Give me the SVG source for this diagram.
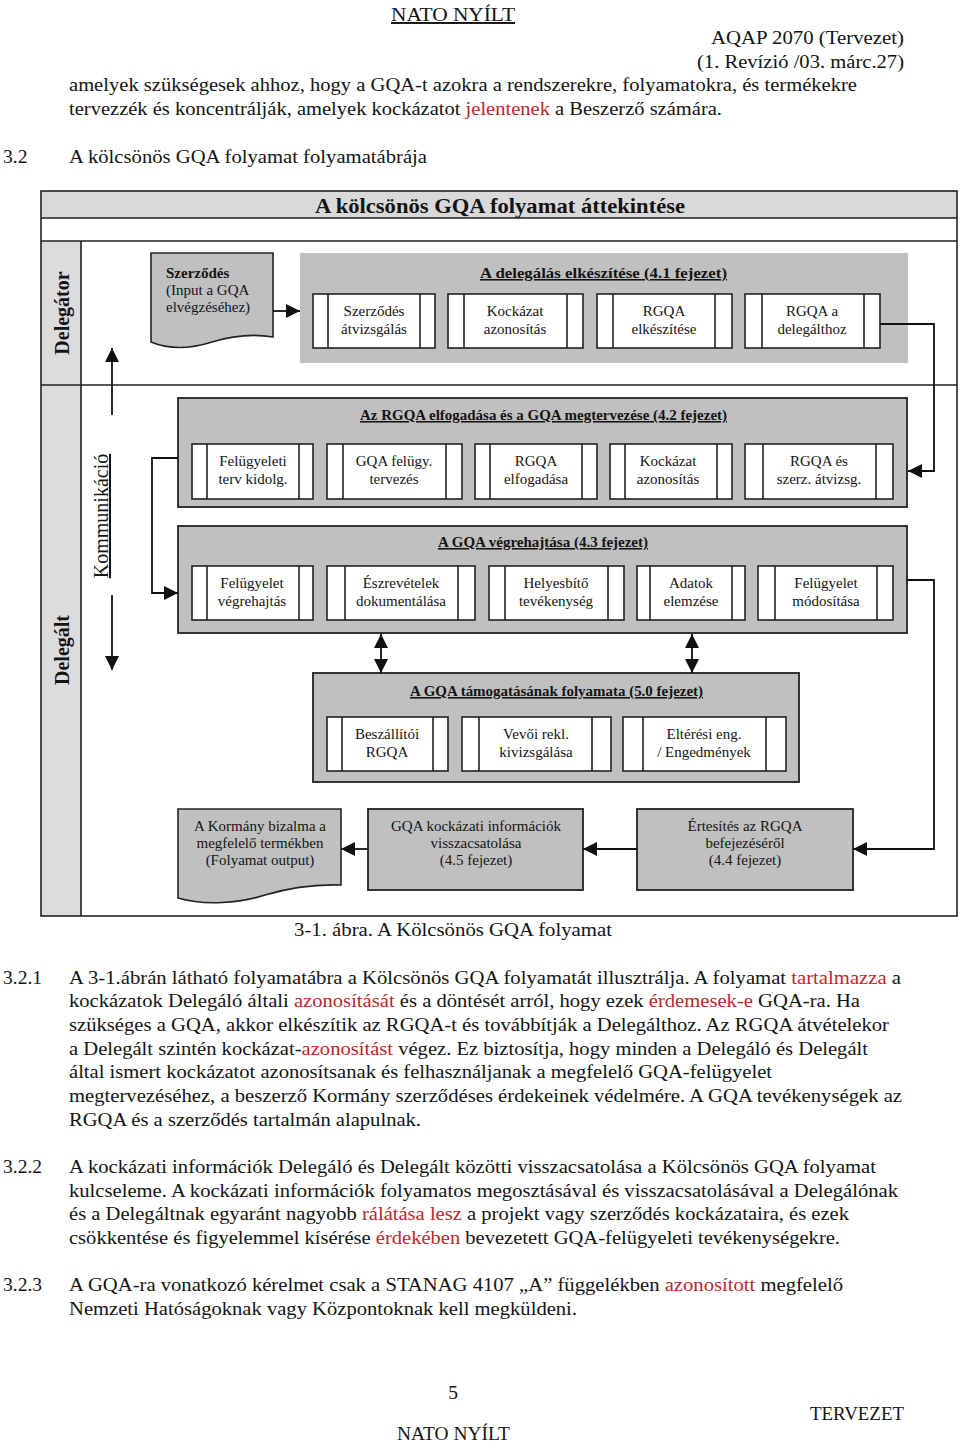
<svg xmlns="http://www.w3.org/2000/svg" width="960" height="1442" viewBox="0 0 960 1442">
<defs>
<style>
text { font-family: "Liberation Serif", "Times New Roman", serif; fill: #141414; }
.pg { font-size: 19.5px; }
.r { fill: #c0262d; }
.ttl { font-size: 21px; font-weight: bold; text-anchor: middle; }
.lane { font-size: 20px; font-weight: bold; text-anchor: middle; }
.kom { font-size: 20px; text-anchor: middle; text-decoration: underline; }
.gt { font-size: 15.5px; font-weight: bold; text-anchor: middle; text-decoration: underline; }
.t { font-size: 15px; text-anchor: middle; }
.tl { font-size: 15px; }
.frame { fill: none; stroke: #222; stroke-width: 1.6; }
.bx { fill: #fff; stroke: #222; stroke-width: 1.6; }
.in { fill: none; stroke: #222; stroke-width: 1.6; }
.grp { fill: #c0c0c0; stroke: #222; stroke-width: 1.8; }
.grp0 { fill: #c0c0c0; stroke: none; }
.conn { fill: none; stroke: #111; stroke-width: 1.8; }
</style>
<marker id="ah" viewBox="0 0 14 14" refX="14" refY="7" markerWidth="14" markerHeight="14" markerUnits="userSpaceOnUse" orient="auto-start-reverse">
<path d="M0,0 L14,7 L0,14 Z" fill="#111"/>
</marker>
</defs>
<rect width="960" height="1442" fill="#fff"/>

<!-- page header -->
<g id="page-header">
<text class="pg" x="391" y="21" textLength="124" lengthAdjust="spacingAndGlyphs" style="text-decoration:underline">NATO NYÍLT</text>
<text class="pg" x="711" y="44" textLength="193" lengthAdjust="spacingAndGlyphs">AQAP 2070 (Tervezet)</text>
<text class="pg" x="697" y="68" textLength="207" lengthAdjust="spacingAndGlyphs">(1. Revízió /03. márc.27)</text>
<text class="pg" x="69" y="91" textLength="788" lengthAdjust="spacingAndGlyphs">amelyek szükségesek ahhoz, hogy a GQA-t azokra a rendszerekre, folyamatokra, és termékekre</text>
<text class="pg" x="69" y="115" textLength="653" lengthAdjust="spacingAndGlyphs"><tspan>tervezzék és koncentrálják, amelyek kockázatot </tspan><tspan class="r">jelentenek</tspan><tspan> a Beszerző számára.</tspan></text>
<text class="pg" x="3" y="163">3.2</text>
<text class="pg" x="69" y="163" textLength="358" lengthAdjust="spacingAndGlyphs">A kölcsönös GQA folyamat folyamatábrája</text>
</g>

<!-- frame -->
<g id="frame">
<rect x="41" y="191" width="916" height="725" fill="#fff"/>
<rect x="41" y="191" width="916" height="27" fill="#d9d9d9"/>
<rect x="41" y="241" width="40" height="675" fill="#dcdcdc"/>
<rect class="frame" x="41" y="191" width="916" height="725"/>
<path class="frame" d="M41,218 H957 M41,241 H957 M41,385 H957 M81,241 V916"/>
<text class="ttl" x="500" y="213" textLength="370" lengthAdjust="spacingAndGlyphs">A kölcsönös GQA folyamat áttekintése</text>
<text class="lane" transform="translate(69,313) rotate(-90)">Delegátor</text>
<text class="lane" transform="translate(69,650) rotate(-90)">Delegált</text>
<text class="kom" transform="translate(108,516) rotate(-90)">Kommunikáció</text>
</g>

<!-- Delegator lane -->
<g id="szerzodes-doc">
<path d="M151,253 H273 V337 C255,334 235,335 212,342 C190,349 170,350 151,342 Z" fill="#c0c0c0" stroke="#222" stroke-width="1.6"/>
<text class="tl" x="166" y="278" font-weight="bold">Szerződés</text>
<text class="tl" x="166" y="295">(Input a GQA</text>
<text class="tl" x="166" y="312">elvégzéséhez)</text>
</g>

<g id="grp-delegalas">
<rect class="grp0" x="300" y="253" width="608" height="110"/>
<text class="gt" x="603.5" y="278" textLength="247" lengthAdjust="spacingAndGlyphs">A delegálás elkészítése (4.1 fejezet)</text>
</g>
<g id="n1a"><rect class="bx" x="313" y="294" width="122" height="54"/><path class="in" d="M328,294 V348 M420,294 V348"/><text class="t" x="374" y="316">Szerződés</text><text class="t" x="374" y="334">átvizsgálás</text></g>
<g id="n1b"><rect class="bx" x="448" y="294" width="135" height="54"/><path class="in" d="M464,294 V348 M567,294 V348"/><text class="t" x="515" y="316">Kockázat</text><text class="t" x="515" y="334">azonosítás</text></g>
<g id="n1c"><rect class="bx" x="597" y="294" width="135" height="54"/><path class="in" d="M613,294 V348 M715,294 V348"/><text class="t" x="664" y="316">RGQA</text><text class="t" x="664" y="334">elkészítése</text></g>
<g id="n1d"><rect class="bx" x="745" y="294" width="135" height="54"/><path class="in" d="M762,294 V348 M864,294 V348"/><text class="t" x="812" y="316">RGQA a</text><text class="t" x="812" y="334">delegálthoz</text></g>

<!-- Group 2 -->
<g id="grp-elfogadas">
<rect class="grp" x="178" y="398" width="729" height="109"/>
<text class="gt" x="543.5" y="420" textLength="367" lengthAdjust="spacingAndGlyphs">Az RGQA elfogadása és a GQA megtervezése (4.2 fejezet)</text>
</g>
<g id="n2a"><rect class="bx" x="192" y="444" width="121" height="55"/><path class="in" d="M207,444 V499 M299,444 V499"/><text class="t" x="253" y="466">Felügyeleti</text><text class="t" x="253" y="484">terv kidolg.</text></g>
<g id="n2b"><rect class="bx" x="327" y="444" width="135" height="55"/><path class="in" d="M343,444 V499 M446,444 V499"/><text class="t" x="394" y="466">GQA felügy.</text><text class="t" x="394" y="484">tervezés</text></g>
<g id="n2c"><rect class="bx" x="475" y="444" width="122" height="55"/><path class="in" d="M490,444 V499 M582,444 V499"/><text class="t" x="536" y="466">RGQA</text><text class="t" x="536" y="484">elfogadása</text></g>
<g id="n2d"><rect class="bx" x="610" y="444" width="122" height="55"/><path class="in" d="M625,444 V499 M717,444 V499"/><text class="t" x="668" y="466">Kockázat</text><text class="t" x="668" y="484">azonosítás</text></g>
<g id="n2e"><rect class="bx" x="745" y="444" width="148" height="55"/><path class="in" d="M763,444 V499 M876,444 V499"/><text class="t" x="819" y="466">RGQA és</text><text class="t" x="819" y="484">szerz. átvizsg.</text></g>

<!-- Group 3 -->
<g id="grp-vegrehajtas">
<rect class="grp" x="178" y="526" width="729" height="107"/>
<text class="gt" x="543" y="547" textLength="210" lengthAdjust="spacingAndGlyphs">A GQA végrehajtása (4.3 fejezet)</text>
</g>
<g id="n3a"><rect class="bx" x="192" y="566" width="121" height="54"/><path class="in" d="M207,566 V620 M299,566 V620"/><text class="t" x="252" y="588">Felügyelet</text><text class="t" x="252" y="606">végrehajtás</text></g>
<g id="n3b"><rect class="bx" x="327" y="566" width="148" height="54"/><path class="in" d="M345,566 V620 M458,566 V620"/><text class="t" x="401" y="588">Észrevételek</text><text class="t" x="401" y="606">dokumentálása</text></g>
<g id="n3c"><rect class="bx" x="489" y="566" width="135" height="54"/><path class="in" d="M505,566 V620 M608,566 V620"/><text class="t" x="556" y="588">Helyesbítő</text><text class="t" x="556" y="606">tevékenység</text></g>
<g id="n3d"><rect class="bx" x="637" y="566" width="108" height="54"/><path class="in" d="M650,566 V620 M732,566 V620"/><text class="t" x="691" y="588">Adatok</text><text class="t" x="691" y="606">elemzése</text></g>
<g id="n3e"><rect class="bx" x="758" y="566" width="135" height="54"/><path class="in" d="M775,566 V620 M877,566 V620"/><text class="t" x="826" y="588">Felügyelet</text><text class="t" x="826" y="606">módosítása</text></g>

<!-- Group 4 -->
<g id="grp-tamogatas">
<rect class="grp" x="313" y="673" width="486" height="109"/>
<text class="gt" x="556.5" y="696" textLength="293" lengthAdjust="spacingAndGlyphs">A GQA támogatásának folyamata (5.0 fejezet)</text>
</g>
<g id="n4a"><rect class="bx" x="327" y="717" width="121" height="54"/><path class="in" d="M342,717 V771 M433,717 V771"/><text class="t" x="387" y="739">Beszállítói</text><text class="t" x="387" y="757">RGQA</text></g>
<g id="n4b"><rect class="bx" x="462" y="717" width="149" height="54"/><path class="in" d="M479,717 V771 M592,717 V771"/><text class="t" x="536" y="739">Vevői rekl.</text><text class="t" x="536" y="757">kivizsgálása</text></g>
<g id="n4c"><rect class="bx" x="623" y="717" width="163" height="54"/><path class="in" d="M643,717 V771 M766,717 V771"/><text class="t" x="704" y="739">Eltérési eng.</text><text class="t" x="704" y="757">/ Engedmények</text></g>

<!-- bottom row -->
<g id="kormany-doc">
<path d="M178,809 H341 V885 C315,884 292,887 265,895 C240,903 205,906 178,898 Z" fill="#c0c0c0" stroke="#222" stroke-width="1.6"/>
<text class="t" x="260" y="831">A Kormány bizalma a</text>
<text class="t" x="260" y="848">megfelelő termékben</text>
<text class="t" x="260" y="865">(Folyamat output)</text>
</g>
<g id="visszacsatolas">
<rect class="grp" x="368" y="809" width="215" height="81"/>
<text class="t" x="476" y="831">GQA kockázati információk</text>
<text class="t" x="476" y="848">visszacsatolása</text>
<text class="t" x="476" y="865">(4.5 fejezet)</text>
</g>
<g id="ertesites">
<rect class="grp" x="637" y="809" width="216" height="81"/>
<text class="t" x="745" y="831">Értesítés az RGQA</text>
<text class="t" x="745" y="848">befejezéséről</text>
<text class="t" x="745" y="865">(4.4 fejezet)</text>
</g>

<!-- connectors -->
<g id="connectors">
<path class="conn" d="M273,311 H300" marker-end="url(#ah)"/>
<path class="conn" d="M880,324 H934 V471 H908" marker-end="url(#ah)"/>
<path class="conn" d="M178,458 H152 V593 H178" marker-end="url(#ah)"/>
<path class="conn" d="M907,580 H934 V849 H853" marker-end="url(#ah)"/>
<path class="conn" d="M637,849 H583" marker-end="url(#ah)"/>
<path class="conn" d="M368,849 H341" marker-end="url(#ah)"/>
<path class="conn" d="M381,634 V673" marker-start="url(#ah)" marker-end="url(#ah)"/>
<path class="conn" d="M692,634 V673" marker-start="url(#ah)" marker-end="url(#ah)"/>
<path class="conn" d="M112,415 V348" marker-end="url(#ah)"/>
<path class="conn" d="M112,595 V670" marker-end="url(#ah)"/>
</g>

<!-- caption and body -->
<g id="body">
<text class="pg" x="294" y="936" textLength="318" lengthAdjust="spacingAndGlyphs">3-1. ábra. A Kölcsönös GQA folyamat</text>

<text class="pg" x="3" y="984">3.2.1</text>
<text class="pg" x="69" y="984" textLength="832" lengthAdjust="spacingAndGlyphs"><tspan>A 3-1.ábrán látható folyamatábra a Kölcsönös GQA folyamatát illusztrálja. A folyamat </tspan><tspan class="r">tartalmazza</tspan><tspan> a</tspan></text>
<text class="pg" x="69" y="1007" textLength="791" lengthAdjust="spacingAndGlyphs"><tspan>kockázatok Delegáló általi </tspan><tspan class="r">azonosítását</tspan><tspan> és a döntését arról, hogy ezek </tspan><tspan class="r">érdemesek-e</tspan><tspan> GQA-ra. Ha</tspan></text>
<text class="pg" x="69" y="1031" textLength="820" lengthAdjust="spacingAndGlyphs">szükséges a GQA, akkor elkészítik az RGQA-t és továbbítják a Delegálthoz. Az RGQA átvételekor</text>
<text class="pg" x="69" y="1055" textLength="799" lengthAdjust="spacingAndGlyphs"><tspan>a Delegált szintén kockázat-</tspan><tspan class="r">azonosítást</tspan><tspan> végez. Ez biztosítja, hogy minden a Delegáló és Delegált</tspan></text>
<text class="pg" x="69" y="1078" textLength="703" lengthAdjust="spacingAndGlyphs">által ismert kockázatot azonosítsanak és felhasználjanak a megfelelő GQA-felügyelet</text>
<text class="pg" x="69" y="1102" textLength="833" lengthAdjust="spacingAndGlyphs">megtervezéséhez, a beszerző Kormány szerződéses érdekeinek védelmére. A GQA tevékenységek az</text>
<text class="pg" x="69" y="1126" textLength="352" lengthAdjust="spacingAndGlyphs">RGQA és a szerződés tartalmán alapulnak.</text>

<text class="pg" x="3" y="1173">3.2.2</text>
<text class="pg" x="69" y="1173" textLength="807" lengthAdjust="spacingAndGlyphs">A kockázati információk Delegáló és Delegált közötti visszacsatolása a Kölcsönös GQA folyamat</text>
<text class="pg" x="69" y="1197" textLength="829" lengthAdjust="spacingAndGlyphs">kulcseleme. A kockázati információk folyamatos megosztásával és visszacsatolásával a Delegálónak</text>
<text class="pg" x="69" y="1220" textLength="780" lengthAdjust="spacingAndGlyphs"><tspan>és a Delegáltnak egyaránt nagyobb </tspan><tspan class="r">rálátása lesz</tspan><tspan> a projekt vagy szerződés kockázataira, és ezek</tspan></text>
<text class="pg" x="69" y="1244" textLength="771" lengthAdjust="spacingAndGlyphs"><tspan>csökkentése és figyelemmel kísérése </tspan><tspan class="r">érdekében</tspan><tspan> bevezetett GQA-felügyeleti tevékenységekre.</tspan></text>

<text class="pg" x="3" y="1291">3.2.3</text>
<text class="pg" x="69" y="1291" textLength="774" lengthAdjust="spacingAndGlyphs"><tspan>A GQA-ra vonatkozó kérelmet csak a STANAG 4107 „A” függelékben </tspan><tspan class="r">azonosított</tspan><tspan> megfelelő</tspan></text>
<text class="pg" x="69" y="1315" textLength="508" lengthAdjust="spacingAndGlyphs">Nemzeti Hatóságoknak vagy Központoknak kell megküldeni.</text>
</g>

<g id="page-footer">
<text class="pg" x="453" y="1399" text-anchor="middle">5</text>
<text class="pg" x="810" y="1420" textLength="94" lengthAdjust="spacingAndGlyphs">TERVEZET</text>
<text class="pg" x="397" y="1440" textLength="113" lengthAdjust="spacingAndGlyphs">NATO NYÍLT</text>
</g>
</svg>
